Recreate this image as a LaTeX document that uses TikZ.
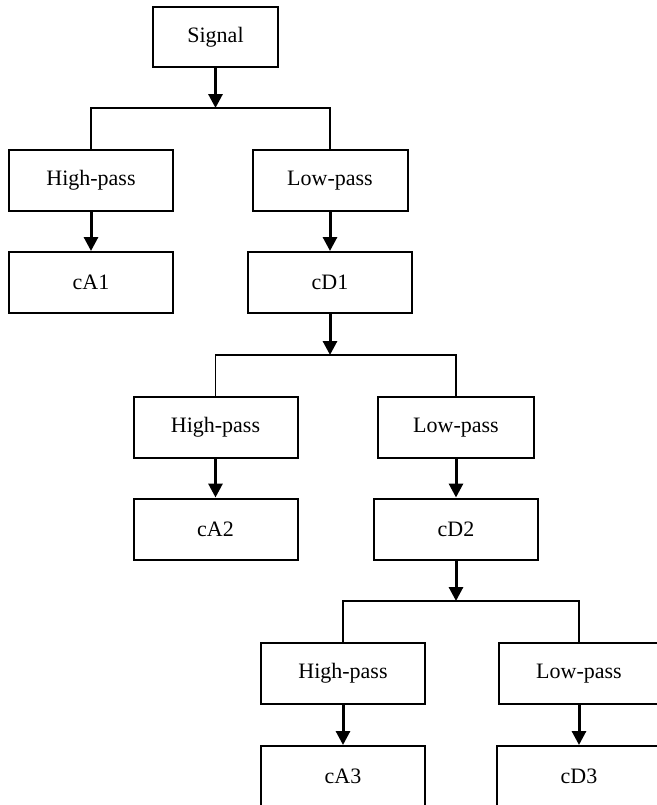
\documentclass[tikz,border=0pt]{standalone}
\usepackage{fontspec}
\setmainfont{Liberation Serif}
\usetikzlibrary{arrows.meta}

\begin{document}
\begin{tikzpicture}[x=0.5pt,y=-0.5pt,
  box/.style={draw,line width=1pt,minimum width=82pt,minimum height=30.5pt,inner sep=0pt,font=\fontsize{11}{13}\selectfont},
  arr/.style={line width=1.5pt,-{Triangle[length=7pt,width=7pt]}},
  branch/.style={line width=0.8pt}]

\useasboundingbox (0,0) rectangle (657,805);
\clip (0,0) rectangle (657,805);

\node[box,minimum width=62.5pt,minimum height=30pt] (S) at (215.5,37) {Signal};

%Level 1
\node[box] (H1) at (91,180.5) {High-pass};
\node[box,minimum width=77.5pt] (L1) at (330,180.5) {Low-pass};
\node[box] (A1) at (91,282.5) {cA1};
\node[box] (D1) at (330,282.5) {cD1};
\coordinate (J1) at (215.5,108);

\draw[arr] (S) -- (J1);
\draw[branch] (H1.north) |- (J1) -| (L1.north);
\path (H1) edge[arr] (A1);
\path (L1) edge[arr] (D1);

%Level 2
\node[box] (H2) at (215.5,427.5) {High-pass};
\node[box,minimum width=78pt] (L2) at (456,427.5) {Low-pass};
\node[box] (A2) at (215.5,529) {cA2};
\node[box] (D2) at (456,529) {cD2};
\coordinate (J2) at (330,355);

\draw[arr] (D1) -- (J2);
\draw[branch] (H2.north) |- (J2) -| (L2.north);
\path (H2) edge[arr] (A2);
\path (L2) edge[arr] (D2);

%Level 3
\node[box] (H3) at (343,673.5) {High-pass};
\node[box,minimum width=80pt] (L3) at (579,673.5) {Low-pass};
\node[box] (A3) at (343,776.5) {cA3};
\node[box] (D3) at (579,776.5) {cD3};
\coordinate (J3) at (456,601);

\draw[arr] (D2) -- (J3);
\draw[branch] (H3.north) |- (J3) -| (L3.north);
\path (H3) edge[arr] (A3);
\path (L3) edge[arr] (D3);

\end{tikzpicture}
\end{document}
